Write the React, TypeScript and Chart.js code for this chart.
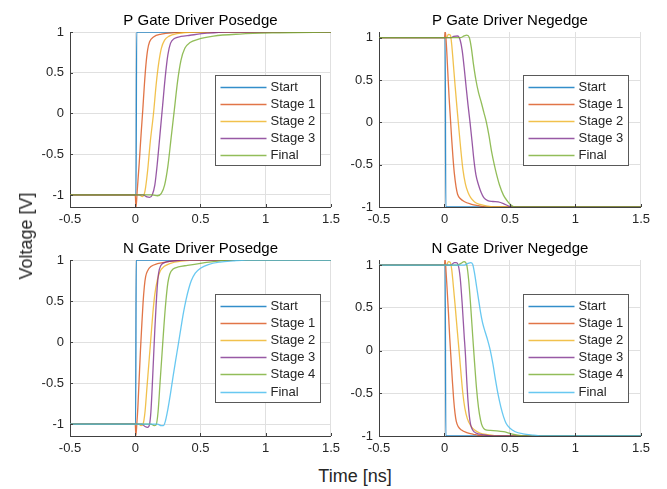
import React, { useEffect, useRef } from 'react';
import { Chart, registerables } from 'chart.js';

Chart.register(...registerables);

// ---------- ticks / labels ----------
const xTicks = [-0.5, 0, 0.5, 1, 1.5];
const yTicks = [-1, -0.5, 0, 0.5, 1];
const labels5 = ['Start', 'Stage 1', 'Stage 2', 'Stage 3', 'Final'];
const labels6 = ['Start', 'Stage 1', 'Stage 2', 'Stage 3', 'Stage 4', 'Final'];
const titles = ['P Gate Driver Posedge', 'P Gate Driver Negedge', 'N Gate Driver Posedge', 'N Gate Driver Negedge'];
const xLabel = 'Time [ns]';
const yLabel = 'Voltage [V]';
const colors = ['rgba(0,114,189,0.8)', 'rgba(217,83,25,0.8)', 'rgba(237,177,32,0.8)', 'rgba(126,47,142,0.8)', 'rgba(119,172,48,0.8)', 'rgba(77,190,238,0.85)'];

// ---------- P Gate Driver Posedge ----------
const pPosStart = [[-0.5, -1], [0.006, -1], [0.011, 1], [1.5, 1]];
const pPosStage1 = [[-0.5, -1], [0, -1], [0.006, -1.15], [0.015, -0.95], [0.03, -0.62], [0.045, -0.25], [0.058, 0.05], [0.07, 0.35], [0.082, 0.6], [0.095, 0.78], [0.11, 0.88], [0.14, 0.94], [0.2, 0.975], [0.3, 0.992], [0.45, 1], [1.5, 1]];
const pPosStage2 = [[-0.5, -1], [0.03, -1], [0.055, -1.02], [0.075, -0.95], [0.095, -0.7], [0.115, -0.35], [0.14, 0.0], [0.16, 0.35], [0.18, 0.62], [0.2, 0.8], [0.225, 0.9], [0.26, 0.95], [0.32, 0.98], [0.45, 1], [1.5, 1]];
const pPosStage3 = [[-0.5, -1], [0.06, -1], [0.09, -1.025], [0.11, -1.03], [0.13, -1.0], [0.15, -0.88], [0.17, -0.6], [0.19, -0.25], [0.21, 0.1], [0.23, 0.45], [0.25, 0.72], [0.27, 0.86], [0.3, 0.92], [0.35, 0.945], [0.42, 0.96], [0.55, 0.985], [0.7, 1], [1.5, 1]];
const pPosFinal = [[-0.5, -1], [0.13, -1], [0.17, -1.01], [0.2, -0.98], [0.225, -0.88], [0.25, -0.65], [0.275, -0.3], [0.3, 0.05], [0.325, 0.4], [0.35, 0.65], [0.38, 0.8], [0.42, 0.87], [0.48, 0.91], [0.6, 0.95], [0.8, 0.975], [1.1, 0.99], [1.5, 1]];

// ---------- P Gate Driver Negedge ----------
const pNegStart = [[-0.5, 1], [0.005, 1], [0.01, -1], [1.5, -1]];
const pNegStage1 = [[-0.5, 1], [0, 1], [0.006, 1.07], [0.015, 0.9], [0.025, 0.6], [0.035, 0.3], [0.045, 0.05], [0.055, -0.2], [0.065, -0.42], [0.075, -0.6], [0.088, -0.76], [0.1, -0.85], [0.12, -0.9], [0.15, -0.935], [0.2, -0.965], [0.26, -0.985], [0.33, -1], [1.5, -1]];
const pNegStage2 = [[-0.5, 1], [0.015, 1], [0.03, 1.04], [0.045, 1.03], [0.055, 0.92], [0.065, 0.74], [0.08, 0.45], [0.095, 0.18], [0.11, -0.08], [0.125, -0.33], [0.14, -0.55], [0.16, -0.73], [0.18, -0.83], [0.2, -0.89], [0.23, -0.94], [0.27, -0.97], [0.33, -0.99], [0.4, -1], [1.5, -1]];
const pNegStage3 = [[-0.5, 1], [0.05, 1], [0.07, 1.015], [0.1, 1.02], [0.12, 0.97], [0.135, 0.85], [0.15, 0.65], [0.165, 0.42], [0.18, 0.2], [0.195, 0.0], [0.21, -0.22], [0.225, -0.45], [0.24, -0.62], [0.26, -0.74], [0.28, -0.83], [0.3, -0.89], [0.33, -0.925], [0.37, -0.935], [0.41, -0.94], [0.45, -0.96], [0.49, -0.99], [0.52, -1], [1.5, -1]];
const pNegFinal = [[-0.5, 1], [0.12, 1], [0.15, 1.02], [0.17, 1.03], [0.19, 1.0], [0.205, 0.88], [0.22, 0.7], [0.24, 0.5], [0.26, 0.35], [0.28, 0.24], [0.3, 0.12], [0.32, 0.0], [0.34, -0.16], [0.36, -0.35], [0.38, -0.5], [0.4, -0.63], [0.42, -0.74], [0.45, -0.86], [0.48, -0.93], [0.51, -0.98], [0.54, -1], [1.5, -1]];

// ---------- N Gate Driver Posedge ----------
const nPosStart = [[-0.5, -1], [0.003, -1], [0.008, 1], [1.5, 1]];
const nPosStage1 = [[-0.5, -1], [0, -1], [0.005, -1.14], [0.012, -1.0], [0.02, -0.8], [0.03, -0.45], [0.04, -0.1], [0.05, 0.2], [0.06, 0.48], [0.07, 0.68], [0.08, 0.8], [0.095, 0.87], [0.12, 0.92], [0.17, 0.955], [0.25, 0.98], [0.35, 0.995], [0.45, 1], [1.5, 1]];
const nPosStage2 = [[-0.5, -1], [0.025, -1], [0.045, -1.02], [0.06, -1.0], [0.075, -0.85], [0.09, -0.55], [0.105, -0.25], [0.12, 0.05], [0.135, 0.35], [0.15, 0.58], [0.17, 0.76], [0.19, 0.86], [0.22, 0.92], [0.27, 0.96], [0.35, 0.985], [0.48, 1], [1.5, 1]];
const nPosStage3 = [[-0.5, -1], [0.05, -1], [0.075, -1.03], [0.095, -1.04], [0.11, -1.0], [0.12, -0.85], [0.13, -0.55], [0.14, -0.2], [0.15, 0.15], [0.16, 0.45], [0.17, 0.7], [0.18, 0.85], [0.195, 0.93], [0.22, 0.965], [0.28, 0.985], [0.38, 1], [1.5, 1]];
const nPosStage4 = [[-0.5, -1], [0.12, -1], [0.145, -1.02], [0.16, -1.01], [0.175, -0.85], [0.19, -0.5], [0.205, -0.15], [0.22, 0.2], [0.235, 0.5], [0.25, 0.72], [0.265, 0.83], [0.29, 0.89], [0.33, 0.915], [0.4, 0.935], [0.5, 0.96], [0.6, 0.98], [0.72, 1], [1.5, 1]];
const nPosFinal = [[-0.5, -1], [0.17, -1], [0.2, -1.02], [0.215, -1.02], [0.23, -0.97], [0.25, -0.82], [0.27, -0.63], [0.29, -0.42], [0.31, -0.22], [0.33, -0.03], [0.35, 0.17], [0.37, 0.36], [0.39, 0.52], [0.41, 0.65], [0.43, 0.75], [0.46, 0.84], [0.5, 0.9], [0.56, 0.945], [0.65, 0.975], [0.75, 0.99], [0.85, 1], [1.5, 1]];

// ---------- N Gate Driver Negedge ----------
const nNegStart = [[-0.5, 1], [0.005, 1], [0.01, -1], [1.5, -1]];
const nNegStage1 = [[-0.5, 1], [0, 1], [0.005, 1.07], [0.012, 0.92], [0.02, 0.72], [0.03, 0.45], [0.04, 0.15], [0.05, -0.1], [0.06, -0.35], [0.07, -0.57], [0.08, -0.73], [0.09, -0.83], [0.105, -0.89], [0.13, -0.93], [0.17, -0.96], [0.22, -0.98], [0.3, -1], [1.5, -1]];
const nNegStage2 = [[-0.5, 1], [0.015, 1], [0.03, 1.04], [0.045, 1.03], [0.055, 0.95], [0.065, 0.8], [0.08, 0.55], [0.095, 0.28], [0.11, 0.02], [0.125, -0.25], [0.14, -0.5], [0.155, -0.67], [0.175, -0.8], [0.2, -0.88], [0.23, -0.93], [0.27, -0.965], [0.33, -0.985], [0.42, -1], [1.5, -1]];
const nNegStage3 = [[-0.5, 1], [0.05, 1], [0.065, 1.02], [0.075, 1.03], [0.09, 1.03], [0.105, 1.0], [0.12, 0.85], [0.135, 0.55], [0.15, 0.18], [0.16, -0.05], [0.17, -0.35], [0.18, -0.6], [0.19, -0.77], [0.2, -0.87], [0.215, -0.93], [0.24, -0.965], [0.29, -0.985], [0.38, -1], [1.5, -1]];
const nNegStage4 = [[-0.5, 1], [0.1, 1], [0.125, 1.02], [0.15, 1.04], [0.17, 1.0], [0.185, 0.82], [0.2, 0.52], [0.215, 0.18], [0.23, -0.15], [0.245, -0.45], [0.26, -0.67], [0.275, -0.81], [0.29, -0.89], [0.31, -0.925], [0.35, -0.935], [0.4, -0.94], [0.45, -0.95], [0.5, -0.97], [0.56, -0.99], [0.64, -1], [1.5, -1]];
const nNegFinal = [[-0.5, 1], [0.15, 1], [0.18, 1.02], [0.2, 1.03], [0.215, 1.01], [0.23, 0.9], [0.245, 0.75], [0.26, 0.6], [0.275, 0.45], [0.29, 0.33], [0.31, 0.22], [0.33, 0.12], [0.35, 0.0], [0.37, -0.16], [0.39, -0.35], [0.41, -0.52], [0.43, -0.66], [0.45, -0.77], [0.47, -0.85], [0.5, -0.91], [0.54, -0.95], [0.6, -0.975], [0.68, -0.99], [0.75, -1], [1.5, -1]];

// axis limits per panel
const yMins = [-1.148, -1, -1.146, -1];
const yMaxs = [1, 1.067, 1, 1.06];

const FONT = 'Arial, "Liberation Sans", Helvetica, sans-serif';
const TEXT = '#262626';

type Panel = {
  title: string;
  series: number[][][];
  labels: string[];
  yMin: number;
  yMax: number;
  left: number;
  top: number;
  width: number;
  height: number;
  yAxisWidth: number;
  legendRight: number;
  legendTop: number;
  legendW: number;
  legendH: number;
};

const panels: Panel[] = [
  { title: titles[0], series: [pPosStart, pPosStage1, pPosStage2, pPosStage3, pPosFinal], labels: labels5, yMin: yMins[0], yMax: yMaxs[0],
    left: 0, top: 0, width: 345, height: 230, yAxisWidth: 70, legendRight: 116, legendTop: 43, legendW: 105, legendH: 90 },
  { title: titles[1], series: [pNegStart, pNegStage1, pNegStage2, pNegStage3, pNegFinal], labels: labels5, yMin: yMins[1], yMax: yMaxs[1],
    left: 340, top: 0, width: 315, height: 230, yAxisWidth: 39, legendRight: 118, legendTop: 43, legendW: 105, legendH: 90 },
  { title: titles[2], series: [nPosStart, nPosStage1, nPosStage2, nPosStage3, nPosStage4, nPosFinal], labels: labels6, yMin: yMins[2], yMax: yMaxs[2],
    left: 0, top: 228, width: 345, height: 231, yAxisWidth: 70, legendRight: 116, legendTop: 34, legendW: 105, legendH: 108 },
  { title: titles[3], series: [nNegStart, nNegStage1, nNegStage2, nNegStage3, nNegStage4, nNegFinal], labels: labels6, yMin: yMins[3], yMax: yMaxs[3],
    left: 340, top: 228, width: 315, height: 231, yAxisWidth: 39, legendRight: 118, legendTop: 34, legendW: 105, legendH: 108 },
];

const decorPlugin = {
  id: 'decor',
  afterDraw(chart: any, _args: any, opts: any) {
    const { ctx, chartArea: a, scales } = chart;
    ctx.save();
    // title
    ctx.font = `15px ${FONT}`;
    ctx.fillStyle = '#000';
    ctx.textAlign = 'center';
    ctx.textBaseline = 'alphabetic';
    ctx.fillText(opts.title, (a.left + a.right) / 2, a.top - 7);
    // inner tick marks (MATLAB style)
    ctx.strokeStyle = '#404040';
    ctx.lineWidth = 1;
    ctx.beginPath();
    xTicks.forEach((v) => {
      const px = Math.round(scales.x.getPixelForValue(v)) + 0.5;
      ctx.moveTo(px, a.bottom);
      ctx.lineTo(px, a.bottom - 3);
    });
    yTicks.forEach((v) => {
      const py = Math.round(scales.y.getPixelForValue(v)) + 0.5;
      ctx.moveTo(a.left, py);
      ctx.lineTo(a.left + 3, py);
    });
    ctx.stroke();
    // legend
    const lx = Math.round(a.right - opts.legendRight) + 0.5;
    const ly = Math.round(a.top + opts.legendTop) + 0.5;
    ctx.fillStyle = '#fff';
    ctx.fillRect(lx, ly, opts.legendW, opts.legendH);
    ctx.strokeStyle = '#595959';
    ctx.strokeRect(lx, ly, opts.legendW, opts.legendH);
    ctx.font = `13px ${FONT}`;
    ctx.textAlign = 'left';
    ctx.textBaseline = 'middle';
    chart.data.datasets.forEach((ds: any, i: number) => {
      const cy = ly + 11.5 + i * 17.1;
      const ry = Math.round(cy) + 0.5;
      ctx.strokeStyle = ds.borderColor;
      ctx.lineWidth = 1.3;
      ctx.beginPath();
      ctx.moveTo(lx + 5, ry);
      ctx.lineTo(lx + 51, ry);
      ctx.stroke();
      ctx.fillStyle = TEXT;
      ctx.fillText(ds.label, lx + 55, cy + 0.5);
    });
    ctx.restore();
  },
};

function PanelChart({ p }: { p: Panel }) {
  const ref = useRef<HTMLCanvasElement | null>(null);
  useEffect(() => {
    if (!ref.current) return;
    const n = p.series.length;
    const chart = new Chart(ref.current, {
      type: 'line',
      data: {
        datasets: p.series.map((s, i) => ({
          label: p.labels[i],
          data: s.map(([x, y]) => ({ x, y })),
          borderColor: colors[i],
          backgroundColor: colors[i],
          borderWidth: 1.3,
          pointRadius: 0,
          cubicInterpolationMode: 'monotone' as const,
          fill: false,
          order: n - i,
        })),
      },
      options: {
        responsive: false,
        animation: false,
        devicePixelRatio: 1,
        layout: { padding: { top: 32, right: 12, left: 0, bottom: 0 } },
        plugins: {
          legend: { display: false },
          title: { display: false },
          tooltip: { enabled: false },
          decor: { title: p.title, legendRight: p.legendRight, legendTop: p.legendTop, legendW: p.legendW, legendH: p.legendH },
        } as any,
        scales: {
          x: {
            type: 'linear',
            min: -0.5,
            max: 1.5,
            afterBuildTicks: (s: any) => { s.ticks = xTicks.map((v) => ({ value: v })); },
            afterFit: (s: any) => { s.height = 23; },
            ticks: { padding: 5, color: TEXT, font: { family: FONT, size: 13 }, maxRotation: 0, autoSkip: false, callback: (v: any) => String(v) },
            grid: { color: '#e0e0e0', drawTicks: false },
            border: { color: '#404040' },
          },
          y: {
            type: 'linear',
            min: p.yMin,
            max: p.yMax,
            afterBuildTicks: (s: any) => { s.ticks = yTicks.map((v) => ({ value: v })); },
            afterFit: (s: any) => { s.width = p.yAxisWidth; },
            ticks: { padding: 6, color: TEXT, font: { family: FONT, size: 13 }, callback: (v: any) => String(v) },
            grid: { color: '#e0e0e0', drawTicks: false },
            border: { color: '#404040' },
          },
        },
      },
      plugins: [decorPlugin],
    } as any);
    return () => chart.destroy();
  }, [p]);
  return (
    <canvas
      ref={ref}
      width={p.width}
      height={p.height}
      style={{ position: 'absolute', left: p.left, top: p.top, width: p.width, height: p.height }}
    />
  );
}

export default function App() {
  return (
    <div style={{ position: 'absolute', left: 0, top: 0, width: 667, height: 489, background: '#fff', overflow: 'hidden' }}>
      {panels.map((p, i) => (
        <PanelChart key={i} p={p} />
      ))}
      <div
        style={{
          position: 'absolute', left: 26, top: 236, transform: 'translate(-50%, -50%) rotate(-90deg)',
          font: `18px ${FONT}`, color: TEXT, whiteSpace: 'nowrap', lineHeight: '20px',
        }}
      >
        {yLabel}
      </div>
      <div
        style={{
          position: 'absolute', left: 355, top: 476, transform: 'translate(-50%, -50%)',
          font: `18px ${FONT}`, color: TEXT, whiteSpace: 'nowrap', lineHeight: '20px',
        }}
      >
        {xLabel}
      </div>
    </div>
  );
}
